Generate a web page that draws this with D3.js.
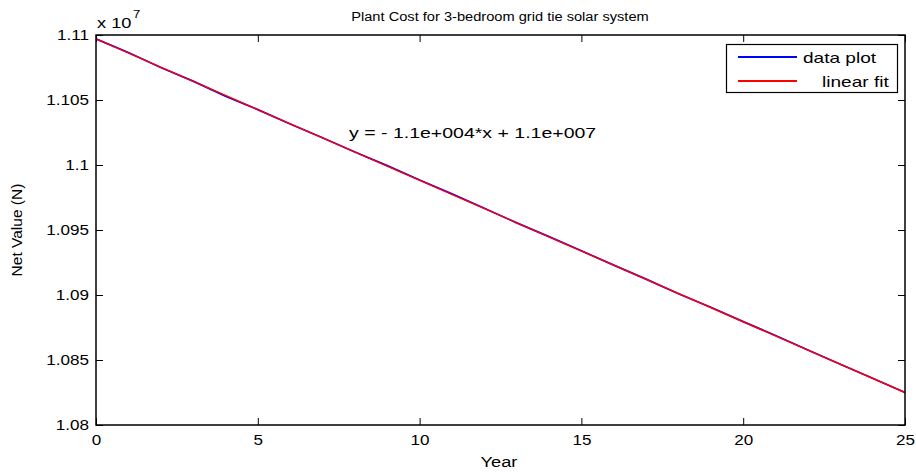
<!DOCTYPE html>
<html>
<head>
<meta charset="utf-8">
<script src="https://cdn.jsdelivr.net/npm/d3@7"></script>
<style>
  body { margin: 0; background: #fff; }
  text { font-family: "Liberation Sans", Arial, sans-serif; fill: #000; }
</style>
</head>
<body>
<div id="chart"></div>
<script>
// years and net value
const years = [0,1,2,3,4,5,6,7,8,9,10,11,12,13,14,15,16,17,18,19,20,21,22,23,24,25];
const netValue = [11097000,11086500,11075000,11064500,11053000,11042600,11031500,11021000,
  11010000,10999500,10988400,10977800,10966800,10955500,10944900,10934000,10923000,
  10912200,10901000,10890600,10879500,10868900,10857700,10846700,10836000,10825000];
const fitYears = [0, 25];
const fitValue = [11097000, 10825000];
const xTicks = [0,5,10,15,20,25];
const yTicks = [1.08,1.085,1.09,1.095,1.1,1.105,1.11];

const W = 916, H = 472;
const margin = {left: 96, top: 35, right: 11, bottom: 47};
const width = W - margin.left - margin.right;
const height = H - margin.top - margin.bottom;

// the picture has wide-looking text, so stretch it a bit
function stretch(sel, k) {
  sel.each(function () {
    const w = this.getComputedTextLength();
    d3.select(this).attr("textLength", w * k).attr("lengthAdjust", "spacingAndGlyphs");
  });
}

const svg = d3.select("#chart").append("svg")
  .attr("width", W).attr("height", H);
const g = svg.append("g")
  .attr("transform", "translate(" + margin.left + "," + margin.top + ")");

const x = d3.scaleLinear().domain([0, 25]).range([0, width]);
const y = d3.scaleLinear().domain([1.08e7, 1.11e7]).range([height, 0]);

// axes with inward ticks (matlab style)
g.append("g").attr("transform", "translate(0," + height + ")")
  .call(d3.axisBottom(x).tickValues(xTicks).tickSizeInner(-7).tickSizeOuter(0).tickPadding(10));
g.append("g")
  .call(d3.axisLeft(y).tickValues(yTicks.map(v => v * 1e7)).tickSizeInner(-7).tickSizeOuter(0)
    .tickPadding(7).tickFormat((d, i) => String(yTicks[i])));
g.append("g")
  .call(d3.axisTop(x).tickValues(xTicks).tickSizeInner(-7).tickSizeOuter(0).tickFormat(""));
g.append("g").attr("transform", "translate(" + width + ",0)")
  .call(d3.axisRight(y).tickValues(yTicks.map(v => v * 1e7)).tickSizeInner(-7).tickSizeOuter(0).tickFormat(""));
g.selectAll(".domain").remove();
g.selectAll(".tick line").attr("stroke", "#000");
const tickText = g.selectAll(".tick text").attr("font-size", 14)
  .style("font-family", '"Liberation Sans", Arial, sans-serif');
stretch(tickText, 1.22);

// lines
const line = d3.line().x(d => x(d[0])).y(d => y(d[1]));
g.append("path").datum(years.map((d, i) => [d, netValue[i]]))
  .attr("fill", "none").attr("stroke", "#0000ff").attr("stroke-width", 1.7).attr("d", line);
g.append("path").datum(fitYears.map((d, i) => [d, fitValue[i]]))
  .attr("fill", "none").attr("stroke", "#ff0000").attr("stroke-width", 1.4).attr("d", line);

// box
g.append("rect").attr("width", width).attr("height", height)
  .attr("fill", "none").attr("stroke", "#000").attr("stroke-width", 1.5);

// texts
stretch(svg.append("text").attr("x", 500).attr("y", 21).attr("text-anchor", "middle")
  .attr("font-size", 12.5).text("Plant Cost for 3-bedroom grid tie solar system"), 1.17);
stretch(svg.append("text").attr("x", 97).attr("y", 28).attr("font-size", 14).text("x 10"), 1.3);
stretch(svg.append("text").attr("x", 133).attr("y", 18).attr("font-size", 10.5).text("7"), 1.25);
stretch(svg.append("text").attr("x", 349).attr("y", 138).attr("font-size", 15)
  .text("y = - 1.1e+004*x + 1.1e+007"), 1.3);
stretch(svg.append("text").attr("x", 499).attr("y", 467).attr("text-anchor", "middle")
  .attr("font-size", 14).text("Year"), 1.3);
svg.append("text").attr("transform", "translate(22," + (margin.top + height / 2) + ") rotate(-90)")
  .attr("text-anchor", "middle").attr("font-size", 15.5).text("Net Value (N)");

// legend
const lg = svg.append("g");
lg.append("rect").attr("x", 726.5).attr("y", 44.5).attr("width", 171).attr("height", 48)
  .attr("fill", "#fff").attr("stroke", "#000").attr("stroke-width", 1.2);
const items = [["data plot", "#0000ff", 803], ["linear fit", "#ff0000", 822]];
items.forEach((it, i) => {
  const ly = 57 + i * 24;
  lg.append("line").attr("x1", 738).attr("x2", 797).attr("y1", ly).attr("y2", ly)
    .attr("stroke", it[1]).attr("stroke-width", 2).attr("shape-rendering", "crispEdges");
  stretch(lg.append("text").attr("x", it[2]).attr("y", ly + 6).attr("font-size", 15).text(it[0]), 1.27);
});
</script>
</body>
</html>
